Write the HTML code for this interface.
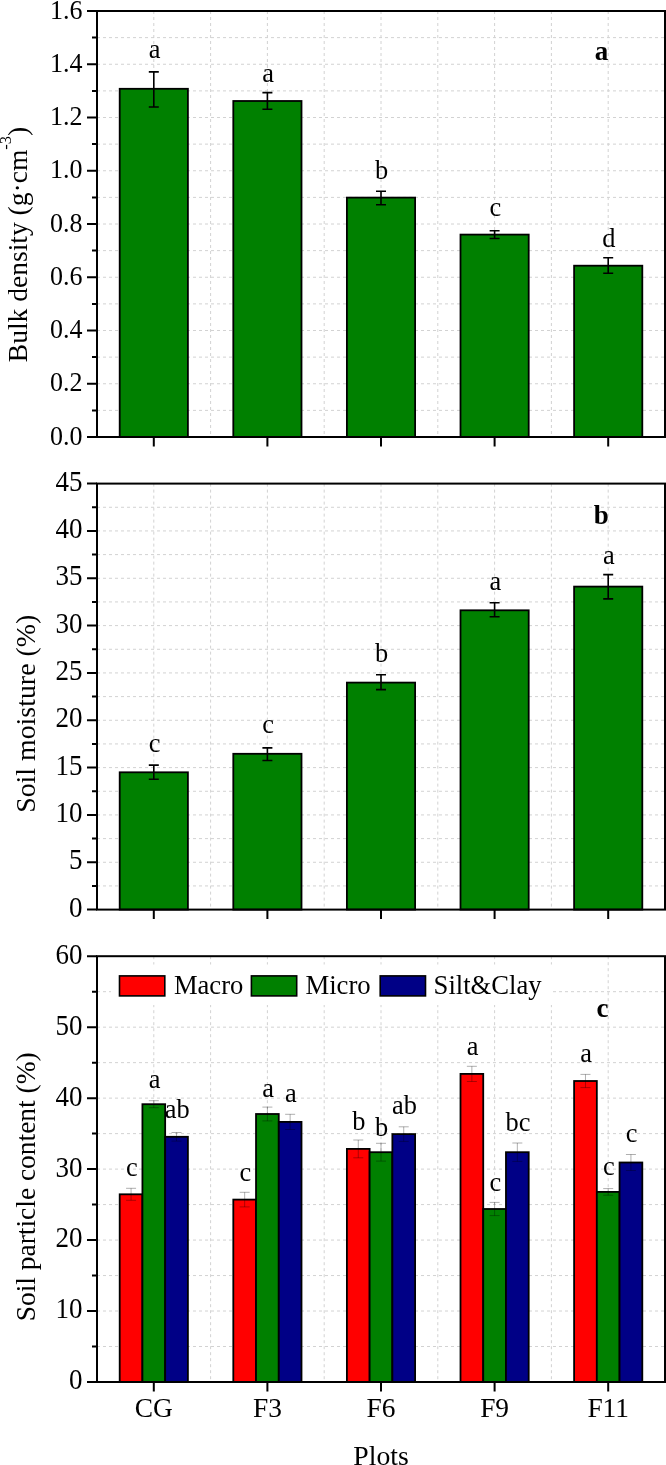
<!DOCTYPE html>
<html lang="en"><head><meta charset="utf-8"><title>Soil properties by plot</title>
<style>html,body{margin:0;padding:0;background:#fff}svg{display:block}</style></head>
<body>
<svg width="666" height="1465" viewBox="0 0 666 1465" font-family="Liberation Serif, Times New Roman, serif" fill="#000">
<rect width="666" height="1465" fill="#fff"/>
<path d="M97.0 410.38H665.0M97.0 383.75H665.0M97.0 357.12H665.0M97.0 330.50H665.0M97.0 303.88H665.0M97.0 277.25H665.0M97.0 250.62H665.0M97.0 224.00H665.0M97.0 197.38H665.0M97.0 170.75H665.0M97.0 144.12H665.0M97.0 117.50H665.0M97.0 90.88H665.0M97.0 64.25H665.0M97.0 37.62H665.0M153.80 11.0V437.0M210.60 11.0V437.0M267.40 11.0V437.0M324.20 11.0V437.0M381.00 11.0V437.0M437.80 11.0V437.0M494.60 11.0V437.0M551.40 11.0V437.0M608.20 11.0V437.0" stroke="#d2d2d2" stroke-width="1" stroke-dasharray="3 3" fill="none"/>
<rect x="119.70" y="88.80" width="68.20" height="348.20" fill="#008000" stroke="#000" stroke-width="1.8"/>
<path d="M153.80 71.90V107.00M148.80 71.90H158.80M148.80 107.00H158.80" stroke="#000" stroke-width="1.6" fill="none"/>
<text x="154.50" y="57.70" text-anchor="middle" font-size="26.4">a</text>
<rect x="233.30" y="101.00" width="68.20" height="336.00" fill="#008000" stroke="#000" stroke-width="1.8"/>
<path d="M267.40 92.60V109.20M262.40 92.60H272.40M262.40 109.20H272.40" stroke="#000" stroke-width="1.6" fill="none"/>
<text x="268.10" y="82.20" text-anchor="middle" font-size="26.4">a</text>
<rect x="346.90" y="197.60" width="68.20" height="239.40" fill="#008000" stroke="#000" stroke-width="1.8"/>
<path d="M381.00 191.30V204.80M376.00 191.30H386.00M376.00 204.80H386.00" stroke="#000" stroke-width="1.6" fill="none"/>
<text x="381.70" y="178.80" text-anchor="middle" font-size="26.4">b</text>
<rect x="460.50" y="234.60" width="68.20" height="202.40" fill="#008000" stroke="#000" stroke-width="1.8"/>
<path d="M494.60 230.80V238.50M489.60 230.80H499.60M489.60 238.50H499.60" stroke="#000" stroke-width="1.6" fill="none"/>
<text x="495.30" y="215.80" text-anchor="middle" font-size="26.4">c</text>
<rect x="574.10" y="265.70" width="68.20" height="171.30" fill="#008000" stroke="#000" stroke-width="1.8"/>
<path d="M608.20 257.70V273.20M603.20 257.70H613.20M603.20 273.20H613.20" stroke="#000" stroke-width="1.6" fill="none"/>
<text x="608.90" y="246.90" text-anchor="middle" font-size="26.4">d</text>
<text x="601.60" y="60.20" text-anchor="middle" font-size="27" font-weight="bold">a</text>
<text transform="translate(82.5 444.50) scale(1 1.075)" text-anchor="end" font-size="26">0.0</text>
<text transform="translate(82.5 391.25) scale(1 1.075)" text-anchor="end" font-size="26">0.2</text>
<text transform="translate(82.5 338.00) scale(1 1.075)" text-anchor="end" font-size="26">0.4</text>
<text transform="translate(82.5 284.75) scale(1 1.075)" text-anchor="end" font-size="26">0.6</text>
<text transform="translate(82.5 231.50) scale(1 1.075)" text-anchor="end" font-size="26">0.8</text>
<text transform="translate(82.5 178.25) scale(1 1.075)" text-anchor="end" font-size="26">1.0</text>
<text transform="translate(82.5 125.00) scale(1 1.075)" text-anchor="end" font-size="26">1.2</text>
<text transform="translate(82.5 71.75) scale(1 1.075)" text-anchor="end" font-size="26">1.4</text>
<text transform="translate(82.5 18.50) scale(1 1.075)" text-anchor="end" font-size="26">1.6</text>
<path d="M87.0 437.00H97.0M92.0 410.38H97.0M87.0 383.75H97.0M92.0 357.12H97.0M87.0 330.50H97.0M92.0 303.88H97.0M87.0 277.25H97.0M92.0 250.62H97.0M87.0 224.00H97.0M92.0 197.38H97.0M87.0 170.75H97.0M92.0 144.12H97.0M87.0 117.50H97.0M92.0 90.88H97.0M87.0 64.25H97.0M92.0 37.62H97.0M87.0 11.00H97.0M153.80 437.0V446.5M267.40 437.0V446.5M381.00 437.0V446.5M494.60 437.0V446.5M608.20 437.0V446.5" stroke="#000" stroke-width="2" fill="none"/>
<rect x="97.0" y="11.0" width="568.0" height="426.0" fill="none" stroke="#000" stroke-width="2"/>
<path d="M97.0 885.93H665.0M97.0 862.27H665.0M97.0 838.60H665.0M97.0 814.93H665.0M97.0 791.27H665.0M97.0 767.60H665.0M97.0 743.93H665.0M97.0 720.27H665.0M97.0 696.60H665.0M97.0 672.93H665.0M97.0 649.27H665.0M97.0 625.60H665.0M97.0 601.93H665.0M97.0 578.27H665.0M97.0 554.60H665.0M97.0 530.93H665.0M97.0 507.27H665.0M153.80 483.6V909.6M210.60 483.6V909.6M267.40 483.6V909.6M324.20 483.6V909.6M381.00 483.6V909.6M437.80 483.6V909.6M494.60 483.6V909.6M551.40 483.6V909.6M608.20 483.6V909.6" stroke="#d2d2d2" stroke-width="1" stroke-dasharray="3 3" fill="none"/>
<rect x="119.70" y="772.30" width="68.20" height="137.30" fill="#008000" stroke="#000" stroke-width="1.8"/>
<path d="M153.80 765.10V779.30M148.80 765.10H158.80M148.80 779.30H158.80" stroke="#000" stroke-width="1.6" fill="none"/>
<text x="154.50" y="751.90" text-anchor="middle" font-size="26.4">c</text>
<rect x="233.30" y="753.80" width="68.20" height="155.80" fill="#008000" stroke="#000" stroke-width="1.8"/>
<path d="M267.40 747.90V760.50M262.40 747.90H272.40M262.40 760.50H272.40" stroke="#000" stroke-width="1.6" fill="none"/>
<text x="268.10" y="733.00" text-anchor="middle" font-size="26.4">c</text>
<rect x="346.90" y="682.60" width="68.20" height="227.00" fill="#008000" stroke="#000" stroke-width="1.8"/>
<path d="M381.00 674.70V689.60M376.00 674.70H386.00M376.00 689.60H386.00" stroke="#000" stroke-width="1.6" fill="none"/>
<text x="381.70" y="661.80" text-anchor="middle" font-size="26.4">b</text>
<rect x="460.50" y="610.30" width="68.20" height="299.30" fill="#008000" stroke="#000" stroke-width="1.8"/>
<path d="M494.60 602.80V616.80M489.60 602.80H499.60M489.60 616.80H499.60" stroke="#000" stroke-width="1.6" fill="none"/>
<text x="495.30" y="589.80" text-anchor="middle" font-size="26.4">a</text>
<rect x="574.10" y="586.60" width="68.20" height="323.00" fill="#008000" stroke="#000" stroke-width="1.8"/>
<path d="M608.20 574.60V598.90M603.20 574.60H613.20M603.20 598.90H613.20" stroke="#000" stroke-width="1.6" fill="none"/>
<text x="608.90" y="563.60" text-anchor="middle" font-size="26.4">a</text>
<text x="601.20" y="524.30" text-anchor="middle" font-size="27" font-weight="bold">b</text>
<text transform="translate(82.5 916.70) scale(1 1.06)" text-anchor="end" font-size="27">0</text>
<text transform="translate(82.5 869.37) scale(1 1.06)" text-anchor="end" font-size="27">5</text>
<text transform="translate(82.5 822.03) scale(1 1.06)" text-anchor="end" font-size="27">10</text>
<text transform="translate(82.5 774.70) scale(1 1.06)" text-anchor="end" font-size="27">15</text>
<text transform="translate(82.5 727.37) scale(1 1.06)" text-anchor="end" font-size="27">20</text>
<text transform="translate(82.5 680.03) scale(1 1.06)" text-anchor="end" font-size="27">25</text>
<text transform="translate(82.5 632.70) scale(1 1.06)" text-anchor="end" font-size="27">30</text>
<text transform="translate(82.5 585.37) scale(1 1.06)" text-anchor="end" font-size="27">35</text>
<text transform="translate(82.5 538.03) scale(1 1.06)" text-anchor="end" font-size="27">40</text>
<text transform="translate(82.5 490.70) scale(1 1.06)" text-anchor="end" font-size="27">45</text>
<path d="M87.0 909.60H97.0M92.0 885.93H97.0M87.0 862.27H97.0M92.0 838.60H97.0M87.0 814.93H97.0M92.0 791.27H97.0M87.0 767.60H97.0M92.0 743.93H97.0M87.0 720.27H97.0M92.0 696.60H97.0M87.0 672.93H97.0M92.0 649.27H97.0M87.0 625.60H97.0M92.0 601.93H97.0M87.0 578.27H97.0M92.0 554.60H97.0M87.0 530.93H97.0M92.0 507.27H97.0M87.0 483.60H97.0M153.80 909.6V919.1M267.40 909.6V919.1M381.00 909.6V919.1M494.60 909.6V919.1M608.20 909.6V919.1" stroke="#000" stroke-width="2" fill="none"/>
<rect x="97.0" y="483.6" width="568.0" height="426.0" fill="none" stroke="#000" stroke-width="2"/>
<path d="M97.0 1346.52H665.0M97.0 1311.03H665.0M97.0 1275.55H665.0M97.0 1240.07H665.0M97.0 1204.58H665.0M97.0 1169.10H665.0M97.0 1133.62H665.0M97.0 1098.13H665.0M97.0 1062.65H665.0M97.0 1027.17H665.0M97.0 991.68H665.0M153.80 956.2V1382.0M210.60 956.2V1382.0M267.40 956.2V1382.0M324.20 956.2V1382.0M381.00 956.2V1382.0M437.80 956.2V1382.0M494.60 956.2V1382.0M551.40 956.2V1382.0M608.20 956.2V1382.0" stroke="#d2d2d2" stroke-width="1" stroke-dasharray="3 3" fill="none"/>
<rect x="111" y="964.5" width="442" height="40.5" fill="#fff"/>
<rect x="119.70" y="1194.30" width="22.73" height="187.70" fill="#ff0000" stroke="#000" stroke-width="1.8"/>
<rect x="142.43" y="1104.20" width="22.73" height="277.80" fill="#008000" stroke="#000" stroke-width="1.8"/>
<rect x="165.17" y="1136.80" width="22.73" height="245.20" fill="#000086" stroke="#000" stroke-width="1.8"/>
<path d="M131.07 1188.30V1200.30M126.07 1188.30H136.07M126.07 1200.30H136.07" stroke="#000" stroke-opacity=".45" stroke-width="0.7" fill="none"/>
<text x="131.77" y="1176.10" text-anchor="middle" font-size="26.4">c</text>
<path d="M153.80 1100.70V1107.70M148.80 1100.70H158.80M148.80 1107.70H158.80" stroke="#000" stroke-opacity=".45" stroke-width="0.7" fill="none"/>
<text x="154.50" y="1087.70" text-anchor="middle" font-size="26.4">a</text>
<path d="M176.53 1132.50V1141.10M171.53 1132.50H181.53M171.53 1141.10H181.53" stroke="#000" stroke-opacity=".45" stroke-width="0.7" fill="none"/>
<text x="177.23" y="1117.80" text-anchor="middle" font-size="26.4">ab</text>
<rect x="233.30" y="1199.60" width="22.73" height="182.40" fill="#ff0000" stroke="#000" stroke-width="1.8"/>
<rect x="256.03" y="1114.00" width="22.73" height="268.00" fill="#008000" stroke="#000" stroke-width="1.8"/>
<rect x="278.77" y="1121.90" width="22.73" height="260.10" fill="#000086" stroke="#000" stroke-width="1.8"/>
<path d="M244.67 1192.30V1206.90M239.67 1192.30H249.67M239.67 1206.90H249.67" stroke="#000" stroke-opacity=".45" stroke-width="0.7" fill="none"/>
<text x="245.37" y="1181.10" text-anchor="middle" font-size="26.4">c</text>
<path d="M267.40 1107.10V1120.90M262.40 1107.10H272.40M262.40 1120.90H272.40" stroke="#000" stroke-opacity=".45" stroke-width="0.7" fill="none"/>
<text x="268.10" y="1096.80" text-anchor="middle" font-size="26.4">a</text>
<path d="M290.13 1114.30V1129.50M285.13 1114.30H295.13M285.13 1129.50H295.13" stroke="#000" stroke-opacity=".45" stroke-width="0.7" fill="none"/>
<text x="290.83" y="1102.10" text-anchor="middle" font-size="26.4">a</text>
<rect x="346.90" y="1148.90" width="22.73" height="233.10" fill="#ff0000" stroke="#000" stroke-width="1.8"/>
<rect x="369.63" y="1152.20" width="22.73" height="229.80" fill="#008000" stroke="#000" stroke-width="1.8"/>
<rect x="392.37" y="1134.10" width="22.73" height="247.90" fill="#000086" stroke="#000" stroke-width="1.8"/>
<path d="M358.27 1140.00V1157.80M353.27 1140.00H363.27M353.27 1157.80H363.27" stroke="#000" stroke-opacity=".45" stroke-width="0.7" fill="none"/>
<text x="358.97" y="1130.10" text-anchor="middle" font-size="26.4">b</text>
<path d="M381.00 1143.30V1161.10M376.00 1143.30H386.00M376.00 1161.10H386.00" stroke="#000" stroke-opacity=".45" stroke-width="0.7" fill="none"/>
<text x="381.70" y="1135.70" text-anchor="middle" font-size="26.4">b</text>
<path d="M403.73 1126.80V1141.40M398.73 1126.80H408.73M398.73 1141.40H408.73" stroke="#000" stroke-opacity=".45" stroke-width="0.7" fill="none"/>
<text x="404.43" y="1113.60" text-anchor="middle" font-size="26.4">ab</text>
<rect x="460.50" y="1073.90" width="22.73" height="308.10" fill="#ff0000" stroke="#000" stroke-width="1.8"/>
<rect x="483.23" y="1209.00" width="22.73" height="173.00" fill="#008000" stroke="#000" stroke-width="1.8"/>
<rect x="505.97" y="1152.20" width="22.73" height="229.80" fill="#000086" stroke="#000" stroke-width="1.8"/>
<path d="M471.87 1066.30V1081.50M466.87 1066.30H476.87M466.87 1081.50H476.87" stroke="#000" stroke-opacity=".45" stroke-width="0.7" fill="none"/>
<text x="472.57" y="1055.40" text-anchor="middle" font-size="26.4">a</text>
<path d="M494.60 1202.40V1215.60M489.60 1202.40H499.60M489.60 1215.60H499.60" stroke="#000" stroke-opacity=".45" stroke-width="0.7" fill="none"/>
<text x="495.30" y="1191.20" text-anchor="middle" font-size="26.4">c</text>
<path d="M517.33 1143.00V1161.40M512.33 1143.00H522.33M512.33 1161.40H522.33" stroke="#000" stroke-opacity=".45" stroke-width="0.7" fill="none"/>
<text x="518.03" y="1131.40" text-anchor="middle" font-size="26.4">bc</text>
<rect x="574.10" y="1081.00" width="22.73" height="301.00" fill="#ff0000" stroke="#000" stroke-width="1.8"/>
<rect x="596.83" y="1191.90" width="22.73" height="190.10" fill="#008000" stroke="#000" stroke-width="1.8"/>
<rect x="619.57" y="1162.50" width="22.73" height="219.50" fill="#000086" stroke="#000" stroke-width="1.8"/>
<path d="M585.47 1074.40V1087.60M580.47 1074.40H590.47M580.47 1087.60H590.47" stroke="#000" stroke-opacity=".45" stroke-width="0.7" fill="none"/>
<text x="586.17" y="1062.40" text-anchor="middle" font-size="26.4">a</text>
<path d="M608.20 1188.60V1195.20M603.20 1188.60H613.20M603.20 1195.20H613.20" stroke="#000" stroke-opacity=".45" stroke-width="0.7" fill="none"/>
<text x="608.90" y="1175.00" text-anchor="middle" font-size="26.4">c</text>
<path d="M630.93 1154.50V1170.50M625.93 1154.50H635.93M625.93 1170.50H635.93" stroke="#000" stroke-opacity=".45" stroke-width="0.7" fill="none"/>
<text x="631.63" y="1142.20" text-anchor="middle" font-size="26.4">c</text>
<text x="602.50" y="1016.90" text-anchor="middle" font-size="27" font-weight="bold">c</text>
<rect x="119.5" y="975.9" width="45.3" height="20" fill="#ff0000" stroke="#000" stroke-width="1.6"/>
<text x="173.9" y="993.9" font-size="26.6" textLength="69.4" lengthAdjust="spacingAndGlyphs">Macro</text>
<rect x="251.4" y="975.9" width="45.3" height="20" fill="#008000" stroke="#000" stroke-width="1.6"/>
<text x="305.4" y="993.9" font-size="26.6" textLength="65.3" lengthAdjust="spacingAndGlyphs">Micro</text>
<rect x="380.2" y="975.9" width="45.3" height="20" fill="#000086" stroke="#000" stroke-width="1.6"/>
<text x="433.6" y="993.9" font-size="26.6" textLength="108.0" lengthAdjust="spacingAndGlyphs">Silt&amp;Clay</text>
<text transform="translate(82.5 1389.40) scale(1 1.06)" text-anchor="end" font-size="27">0</text>
<text transform="translate(82.5 1318.43) scale(1 1.06)" text-anchor="end" font-size="27">10</text>
<text transform="translate(82.5 1247.47) scale(1 1.06)" text-anchor="end" font-size="27">20</text>
<text transform="translate(82.5 1176.50) scale(1 1.06)" text-anchor="end" font-size="27">30</text>
<text transform="translate(82.5 1105.53) scale(1 1.06)" text-anchor="end" font-size="27">40</text>
<text transform="translate(82.5 1034.57) scale(1 1.06)" text-anchor="end" font-size="27">50</text>
<text transform="translate(82.5 963.60) scale(1 1.06)" text-anchor="end" font-size="27">60</text>
<path d="M87.0 1382.00H97.0M92.0 1346.52H97.0M87.0 1311.03H97.0M92.0 1275.55H97.0M87.0 1240.07H97.0M92.0 1204.58H97.0M87.0 1169.10H97.0M92.0 1133.62H97.0M87.0 1098.13H97.0M92.0 1062.65H97.0M87.0 1027.17H97.0M92.0 991.68H97.0M87.0 956.20H97.0M153.80 1382.0V1391.5M267.40 1382.0V1391.5M381.00 1382.0V1391.5M494.60 1382.0V1391.5M608.20 1382.0V1391.5" stroke="#000" stroke-width="2" fill="none"/>
<rect x="97.0" y="956.2" width="568.0" height="425.79999999999995" fill="none" stroke="#000" stroke-width="2"/>
<text x="153.80" y="1417.3" text-anchor="middle" font-size="27.4">CG</text>
<text x="267.40" y="1417.3" text-anchor="middle" font-size="27.4">F3</text>
<text x="381.00" y="1417.3" text-anchor="middle" font-size="27.4">F6</text>
<text x="494.60" y="1417.3" text-anchor="middle" font-size="27.4">F9</text>
<text x="608.20" y="1417.3" text-anchor="middle" font-size="27.4">F11</text>
<text x="381" y="1464.8" text-anchor="middle" font-size="27.7">Plots</text>
<text transform="translate(26.6 362.2) rotate(-90)" font-size="27.5" textLength="235.5" lengthAdjust="spacingAndGlyphs">Bulk density (g·cm<tspan font-size="16.5" dy="-15.8">-3</tspan><tspan dy="15.8">)</tspan></text>
<text transform="translate(35.2 812.8) rotate(-90)" font-size="27.5" textLength="198" lengthAdjust="spacingAndGlyphs">Soil moisture (%)</text>
<text transform="translate(35.3 1321.3) rotate(-90)" font-size="27.5" textLength="269" lengthAdjust="spacingAndGlyphs">Soil particle content (%)</text>
</svg>
</body></html>
